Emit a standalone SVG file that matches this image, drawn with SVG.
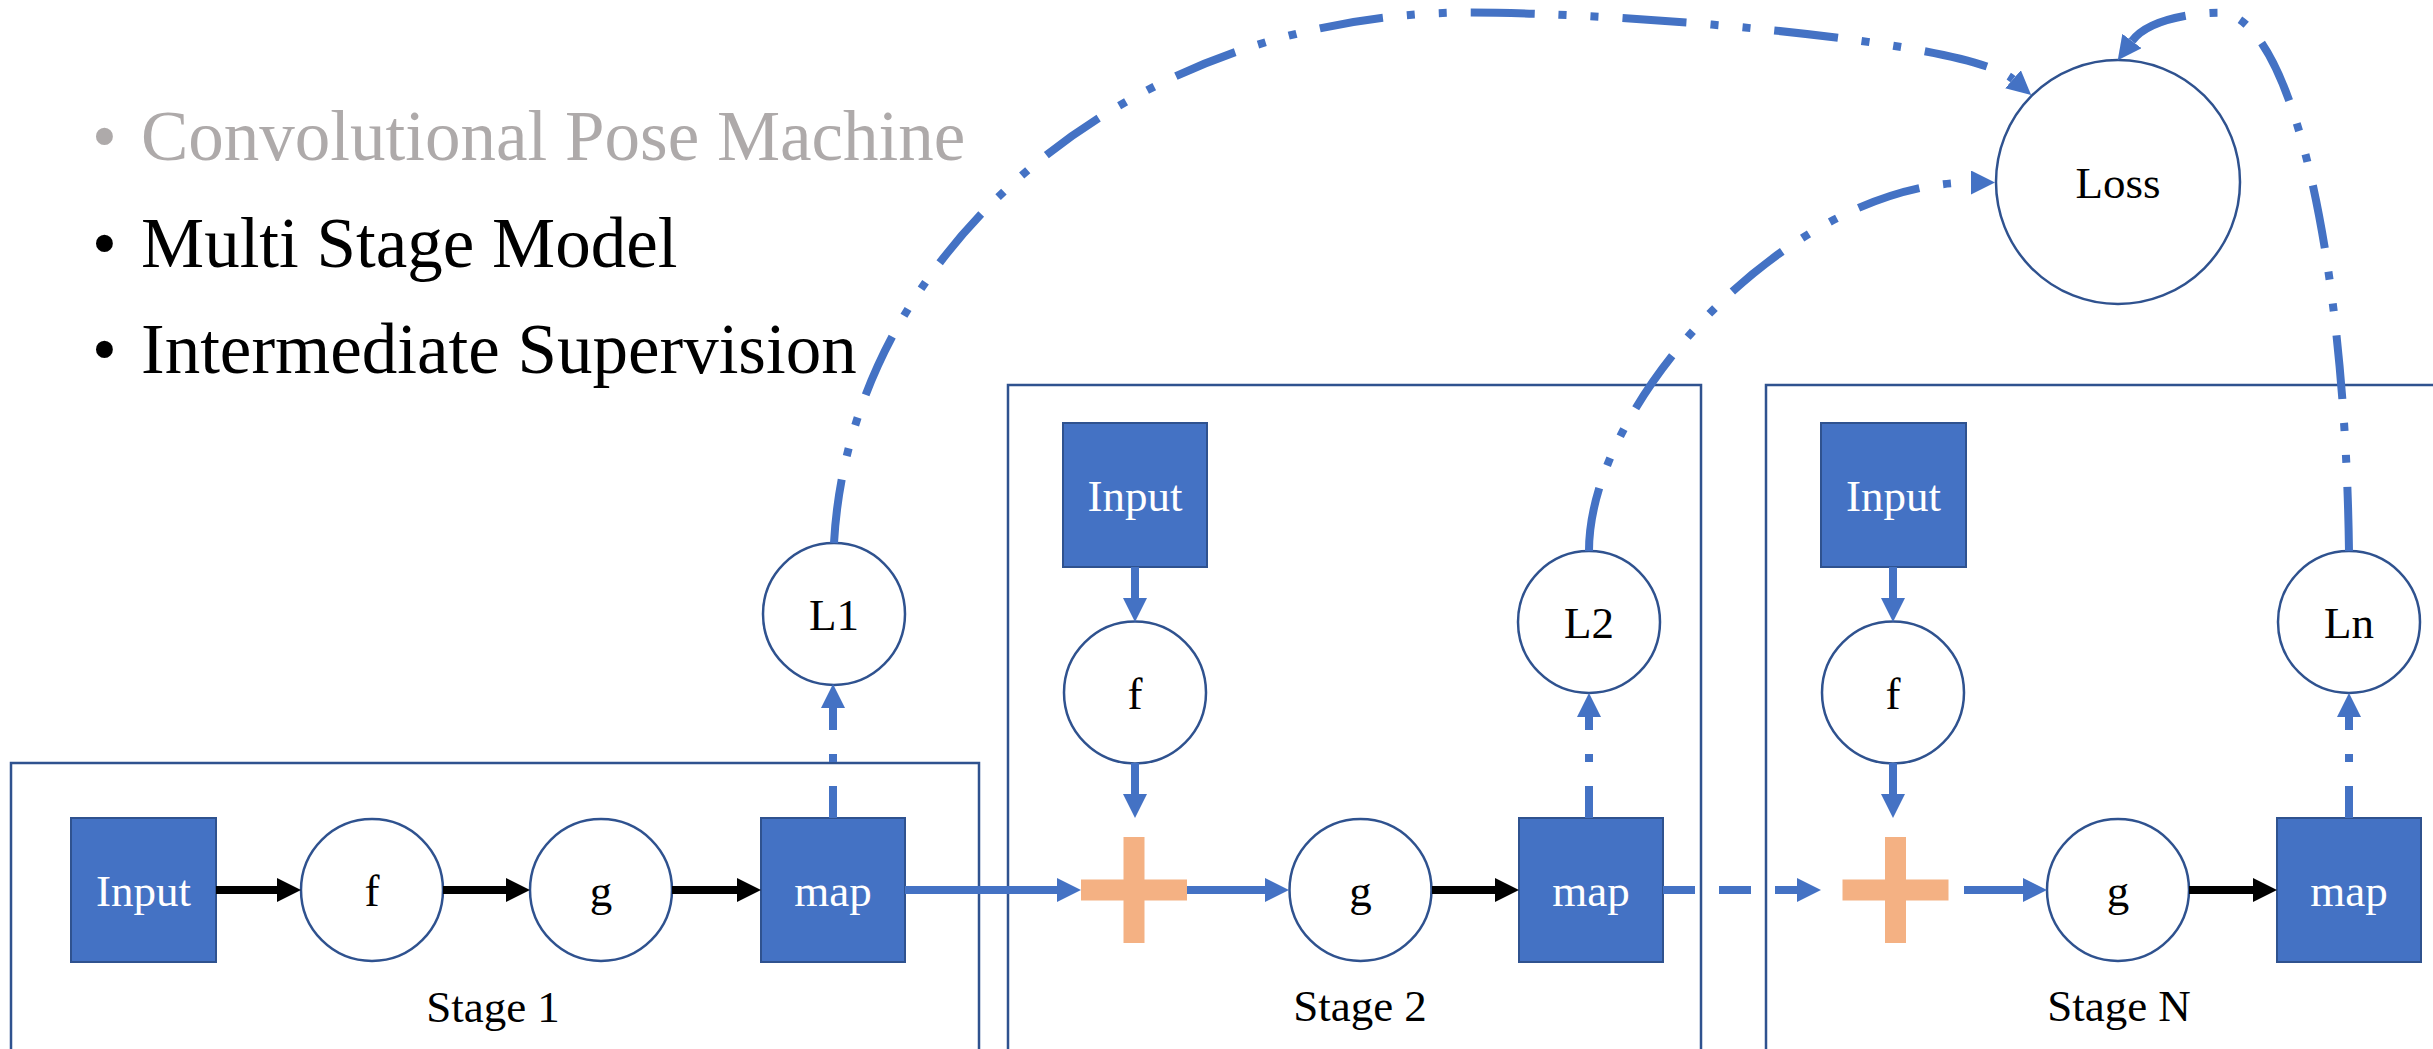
<svg xmlns="http://www.w3.org/2000/svg" width="2433" height="1049" viewBox="0 0 2433 1049">
<style>
text{font-family:"Liberation Serif","Times New Roman",serif}
.big{font-size:71px}
.gray{fill:#AEAAAA}
.blackt{fill:#000}
.lbl{font-size:45px;text-anchor:middle}
.w{fill:#fff}
.k{fill:#000}
.stage{fill:none;stroke:#2F528F;stroke-width:2.5}
.box{fill:#4472C4;stroke:#2F528F;stroke-width:2}
.circ{fill:#fff;stroke:#2F528F;stroke-width:2.5}
.plus{fill:#F4B183}
.bl{fill:none;stroke:#4472C4;stroke-width:8;stroke-linecap:butt}
.blk{fill:none;stroke:#000;stroke-width:8}
.dash{stroke-dasharray:32 24}
.dd{stroke-dasharray:32 24 8 24}
.ldd{stroke-dasharray:64 24 8 24 8 24}
</style>
<defs>
<marker id="ab" markerUnits="userSpaceOnUse" markerWidth="24" markerHeight="24" refX="0" refY="12" orient="auto" viewBox="0 0 24 24"><path d="M0,0L24,12L0,24z" fill="#4472C4"/></marker>
<marker id="ak" markerUnits="userSpaceOnUse" markerWidth="24" markerHeight="24" refX="0" refY="12" orient="auto" viewBox="0 0 24 24"><path d="M0,0L24,12L0,24z" fill="#000"/></marker>
</defs>

<g id="bullets">
<text class="big gray" x="92" y="160">•</text>
<text class="big gray" x="141" y="160">Convolutional Pose Machine</text>
<text class="big blackt" x="92" y="267">•</text>
<text class="big blackt" x="141" y="267">Multi Stage Model</text>
<text class="big blackt" x="92" y="373">•</text>
<text class="big blackt" x="141" y="373">Intermediate Supervision</text>
</g>

<g id="stage1">
<rect class="stage" x="11" y="763" width="968" height="320"/>
<text class="lbl k" x="493" y="1022">Stage 1</text>
</g>
<g id="stage2">
<rect class="stage" x="1008" y="385" width="693" height="700"/>
<text class="lbl k" x="1360" y="1021">Stage 2</text>
</g>
<g id="stageN">
<rect class="stage" x="1766" y="385" width="720" height="700"/>
<text class="lbl k" x="2119" y="1021">Stage N</text>
</g>

<g id="input1"><rect class="box" x="71" y="818" width="145" height="144"/><text class="lbl w" x="143.5" y="906">Input</text></g>
<g id="f1"><circle class="circ" cx="372" cy="890" r="71"/><text class="lbl k" x="372" y="906">f</text></g>
<g id="g1"><circle class="circ" cx="601" cy="890" r="71"/><text class="lbl k" x="601" y="906">g</text></g>
<g id="map1"><rect class="box" x="761" y="818" width="144" height="144"/><text class="lbl w" x="833" y="906">map</text></g>
<g id="L1"><circle class="circ" cx="834" cy="614" r="71"/><text class="lbl k" x="834" y="630">L1</text></g>

<g id="input2"><rect class="box" x="1063" y="423" width="144" height="144"/><text class="lbl w" x="1135" y="511">Input</text></g>
<g id="f2"><circle class="circ" cx="1135" cy="692.5" r="71"/><text class="lbl k" x="1135" y="708.5">f</text></g>
<g id="plus2"><rect class="plus" x="1081" y="879.5" width="106" height="21"/><rect class="plus" x="1123.5" y="837" width="21" height="106"/></g>
<g id="g2"><circle class="circ" cx="1360.5" cy="890" r="71"/><text class="lbl k" x="1360.5" y="906">g</text></g>
<g id="map2"><rect class="box" x="1519" y="818" width="144" height="144"/><text class="lbl w" x="1591" y="906">map</text></g>
<g id="L2"><circle class="circ" cx="1589" cy="622" r="71"/><text class="lbl k" x="1589" y="638">L2</text></g>

<g id="inputN"><rect class="box" x="1821" y="423" width="145" height="144"/><text class="lbl w" x="1893.5" y="511">Input</text></g>
<g id="fN"><circle class="circ" cx="1893" cy="692.5" r="71"/><text class="lbl k" x="1893" y="708.5">f</text></g>
<g id="plusN"><rect class="plus" x="1842.5" y="879.5" width="106" height="21"/><rect class="plus" x="1885" y="837" width="21" height="106"/></g>
<g id="gN"><circle class="circ" cx="2118" cy="890" r="71"/><text class="lbl k" x="2118" y="906">g</text></g>
<g id="mapN"><rect class="box" x="2277" y="818" width="144" height="144"/><text class="lbl w" x="2349" y="906">map</text></g>
<g id="Ln"><circle class="circ" cx="2349" cy="622" r="71"/><text class="lbl k" x="2349" y="638">Ln</text></g>

<g id="loss"><circle class="circ" cx="2118" cy="182" r="122"/><text class="lbl k" x="2118" y="198">Loss</text></g>

<g id="connectors">
<path class="blk" d="M216,890H277" marker-end="url(#ak)"/>
<path class="blk" d="M443,890H506" marker-end="url(#ak)"/>
<path class="blk" d="M672,890H737" marker-end="url(#ak)"/>
<path class="bl" d="M905,890H1057" marker-end="url(#ab)"/>
<path class="bl" d="M1135,567V598" marker-end="url(#ab)"/>
<path class="bl" d="M1135,763V794" marker-end="url(#ab)"/>
<path class="bl" d="M1187,890H1265" marker-end="url(#ab)"/>
<path class="blk" d="M1432,890H1495" marker-end="url(#ak)"/>
<path class="bl dash" d="M1663,890H1797" marker-end="url(#ab)"/>
<path class="bl" d="M1893,567V598" marker-end="url(#ab)"/>
<path class="bl" d="M1893,763V794" marker-end="url(#ab)"/>
<path class="bl" d="M1964,890H2023" marker-end="url(#ab)"/>
<path class="blk" d="M2189,890H2253" marker-end="url(#ak)"/>
<path class="bl dd" d="M833,818V708" marker-end="url(#ab)"/>
<path class="bl dd" d="M1589,818V717" marker-end="url(#ab)"/>
<path class="bl dd" d="M2349,818V717" marker-end="url(#ab)"/>
<path class="bl ldd" d="M834,543C850,250 1130,12.5 1470,12.5C1620,12.5 1967.6,40 2013,79.3" marker-end="url(#ab)"/>
<path class="bl ldd" d="M1589,551C1589,401 1791,182.5 1971,182.5" marker-end="url(#ab)"/>
<path class="bl ldd" d="M2349,551C2345,250 2290,12.7 2219,12.7C2189,12.7 2146.8,21 2132,41" marker-end="url(#ab)"/>
</g>
</svg>
